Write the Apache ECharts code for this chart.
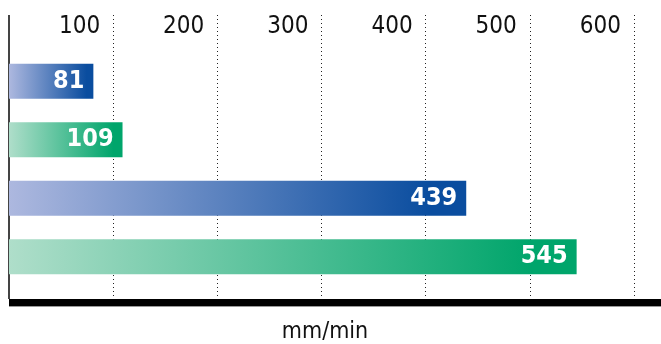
<!DOCTYPE html>
<html>
<head>
<meta charset="utf-8">
<script src="https://cdn.jsdelivr.net/npm/echarts@6/dist/echarts.min.js"></script>
<style>
  html, body { margin: 0; padding: 0; background: #fff; }
  #main { width: 661px; height: 344px; }
</style>
</head>
<body>
<div id="main"></div>
<script>
// bar rows, top to bottom
var categories = ['a', 'b', 'c', 'd'];
var speeds = [81, 109, 439, 545];
var barColors = ['blue', 'green', 'blue', 'green'];
var unitName = 'mm/min';

var fontNarrow = '"DejaVu Sans Condensed", "Liberation Sans Narrow", Roboto, sans-serif';
var axisMax = 626;

var gradients = {
    blue: ['#adb8df', '#0a4d9f'],
    green: ['#afdeca', '#00a56b']
};

function barStyle(name) {
    var c = gradients[name];
    return {
        color: new echarts.graphic.LinearGradient(0, 0, 1, 0, [
            { offset: 0, color: c[0] },
            { offset: 0.92, color: c[1] },
            { offset: 1, color: c[1] }
        ])
    };
}

var chart = echarts.init(document.getElementById('main'));

var option = {
    animation: false,
    grid: [
        { left: 9, right: 0, top: 52, height: 234, outerBoundsMode: 'none' },
        { left: 9, right: 0, top: 15, bottom: 45, outerBoundsMode: 'none' }
    ],
    xAxis: [
        { gridIndex: 0, type: 'value', min: 0, max: axisMax, show: false },
        {
            gridIndex: 1, type: 'value', position: 'top',
            min: 0, max: axisMax, interval: 100,
            axisLine: { show: false },
            axisTick: { show: false },
            axisLabel: {
                inside: true, margin: 0,
                showMinLabel: false, showMaxLabel: false,
                align: 'right', verticalAlign: 'top',
                padding: [0, 13, 0, 0],
                fontFamily: fontNarrow, fontSize: 24, color: '#111'
            },
            splitLine: {
                show: true,
                lineStyle: { color: '#222', type: [1, 3], width: 1 }
            }
        },
        {
            gridIndex: 1, type: 'value', position: 'bottom',
            min: 0, max: axisMax, offset: 3.5,
            axisLine: {
                show: true,
                lineStyle: { color: '#000', width: 7, cap: 'butt', shadowColor: '#999', shadowOffsetY: 1 }
            },
            axisTick: { show: false },
            axisLabel: { show: false },
            splitLine: { show: false },
            name: unitName,
            nameLocation: 'middle',
            nameGap: 18,
            nameTextStyle: {
                fontFamily: fontNarrow, fontSize: 23, color: '#111',
                padding: [0, 20, 0, 0]
            }
        }
    ],
    yAxis: [
        { gridIndex: 0, type: 'category', data: categories, inverse: true, show: false },
        {
            gridIndex: 1, type: 'value', min: 0, max: 1,
            axisLine: { show: true, lineStyle: { color: '#444', width: 2, cap: 'butt' } },
            axisTick: { show: false },
            axisLabel: { show: false },
            splitLine: { show: false }
        }
    ],
    series: [{
        type: 'bar',
        xAxisIndex: 0,
        yAxisIndex: 0,
        barWidth: 35,
        data: speeds.map(function (v, i) {
            return { value: v, itemStyle: barStyle(barColors[i]) };
        }),
        label: {
            show: true,
            position: 'insideRight',
            distance: 9,
            color: '#fff',
            fontFamily: fontNarrow,
            fontWeight: 'bold',
            fontSize: 25
        },
        z: 3
    }]
};

chart.setOption(option);
</script>
</body>
</html>
